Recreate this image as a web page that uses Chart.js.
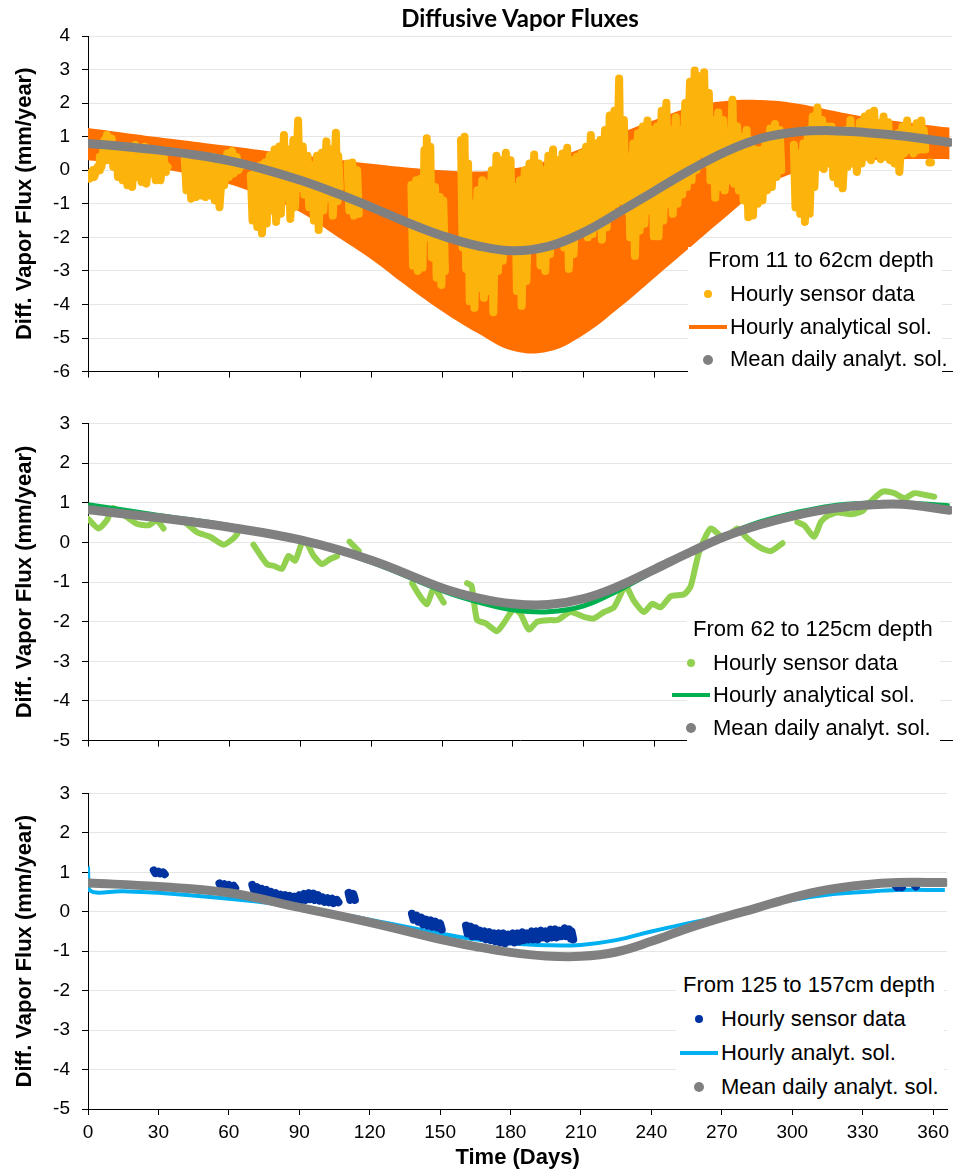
<!DOCTYPE html>
<html>
<head>
<meta charset="utf-8">
<script src="https://cdn.jsdelivr.net/npm/chart.js@4.4.1/dist/chart.umd.min.js"></script>
<style>
  body { margin: 0; background: #fff; }
  #wrap { position: relative; width: 955px; height: 1173px; overflow: hidden; font-family: "Liberation Sans", Arial, sans-serif; }
  canvas { position: absolute; left: 0; }
  .title { position: absolute; left: 300px; width: 440px; top: 4px; line-height: 28px; text-align: center;
           font-family: Lato, "Open Sans", sans-serif; font-weight: bold; font-size: 24px; color: #000; }
  .lgbox { position: absolute; background: #fff; }
  .lg { position: absolute; font-size: 22px; line-height: 26px; color: #000; white-space: nowrap; }
  .dot { position: absolute; border-radius: 50%; }
  .bar { position: absolute; height: 4px; }
</style>
</head>
<body>
<div id="wrap">
  <canvas id="c1" width="955" height="395" style="top:0px"></canvas>
  <canvas id="c2" width="955" height="364" style="top:400px"></canvas>
  <canvas id="c3" width="955" height="403" style="top:770px"></canvas>
  <div class="title">Diffusive Vapor Fluxes</div>

  <!-- legend panel 1 -->
  <div class="lgbox" style="left:688px;top:247px;width:254px;height:132px"></div>
  <div class="lg" style="left:708px;top:247px">From 11 to 62cm depth</div>
  <div class="dot" style="left:704px;top:290px;width:8px;height:8px;background:#FCB40D"></div>
  <div class="lg" style="left:730px;top:281px">Hourly sensor data</div>
  <div class="bar" style="left:689px;top:325px;width:38px;background:#FF7000"></div>
  <div class="lg" style="left:730px;top:314px">Hourly analytical sol.</div>
  <div class="dot" style="left:703px;top:355px;width:10px;height:10px;background:#808080"></div>
  <div class="lg" style="left:730px;top:346px">Mean daily analyt. sol.</div>

  <!-- legend panel 2 -->
  <div class="lgbox" style="left:687px;top:610px;width:253px;height:138px"></div>
  <div class="lg" style="left:693px;top:616px">From 62 to 125cm depth</div>
  <div class="dot" style="left:687px;top:659px;width:8px;height:8px;background:#92D050"></div>
  <div class="lg" style="left:713px;top:650px">Hourly sensor data</div>
  <div class="bar" style="left:672px;top:693px;width:38px;background:#00B050"></div>
  <div class="lg" style="left:713px;top:682px">Hourly analytical sol.</div>
  <div class="dot" style="left:686px;top:723px;width:10px;height:10px;background:#808080"></div>
  <div class="lg" style="left:713px;top:715px">Mean daily analyt. sol.</div>

  <!-- legend panel 3 -->
  <div class="lgbox" style="left:676px;top:966px;width:268px;height:140px"></div>
  <div class="lg" style="left:683px;top:972px">From 125 to 157cm depth</div>
  <div class="dot" style="left:695px;top:1015px;width:8px;height:8px;background:#0033A0"></div>
  <div class="lg" style="left:721px;top:1006px">Hourly sensor data</div>
  <div class="bar" style="left:680px;top:1051px;width:38px;background:#00B0F0"></div>
  <div class="lg" style="left:721px;top:1040px">Hourly analyt. sol.</div>
  <div class="dot" style="left:694px;top:1082px;width:10px;height:10px;background:#808080"></div>
  <div class="lg" style="left:721px;top:1074px">Mean daily analyt. sol.</div>
</div>

<script>
// ---------- panel 1 : 11 to 62 cm ----------
const band1Day  = [0, 15, 30, 45, 60, 75, 90, 105, 120, 135, 150, 165, 180, 195, 210, 225, 240, 255, 270, 285, 300, 315, 330, 345, 365];
const band1High = [1.26, 1.12, 0.98, 0.85, 0.72, 0.58, 0.45, 0.33, 0.19, 0.08, 0.0, -0.04, 0.05, 0.3, 0.68, 1.1, 1.5, 1.87, 2.06, 2.09, 1.99, 1.78, 1.58, 1.44, 1.27];
const band1Low  = [0.3, 0.2, 0.05, -0.15, -0.42, -0.8, -1.25, -1.95, -2.65, -3.45, -4.2, -4.85, -5.38, -5.4, -4.9, -4.1, -3.2, -2.3, -1.4, -0.55, -0.05, 0.2, 0.3, 0.33, 0.33];

const mean1Day = [0, 15, 30, 45, 60, 75, 90, 105, 120, 135, 150, 165, 180, 195, 210, 225, 240, 255, 270, 285, 300, 315, 330, 345, 365];
const mean1Val = [0.8, 0.71, 0.6, 0.46, 0.28, 0.02, -0.3, -0.68, -1.1, -1.55, -1.95, -2.25, -2.4, -2.27, -1.85, -1.25, -0.62, 0.0, 0.55, 0.95, 1.14, 1.18, 1.12, 1.02, 0.83];

// hourly sensor data: daily spread (top / bottom), null = no data
const sens1Day = [
  0, 2, 4, 5, 7, 8, 10, 12, 14, 16, 18, 20, 22, 24, 26, 28, 30, 32, 33, null,
  41, 43, 45, 47, 49, 51, 53, 55, 57, 59, 61, 63, 64, null,
  69, 71, 73, 75, 77, 79, 81, 83, 85, 87, 89, 91, 93, 95, 97, 99, 101, 103, 105, 106, null,
  110, 112, 114, null,
  137, 139, 141, 142.5, 143.5, 145, 147, 149, 150.5, null,
  158, 159.5, 161, 163, 165, 167, 169, 171, 173, 175, 177, 179, 181, 183, 185, 187, 189, 191, 193, 195,
  197, 199, 201, 203, 205, 207, 209, 211, 213, 215, 217, 219, 221, 223, 225, 227, 229, 231, 233, 235,
  237, 239, 241, 243, 245, 247, 249, 251, 253, 255, 257, 259, 261, 263, 265, 267, 269, 271, 273, 275,
  277, 279, 281, 283, 285, 287, 289, 291, 293, null,
  299, 301, 303, 305, 307, 309, 311, 313, 315, 317, 319, 321, 323, 325, 327, 329, 331, 333, 335, 337,
  339, 341, 343, 345, 347, 349, 351, 353, 354, null,
  356.4
];
const sens1Top = [
  -0.1, 0.0, 0.1, 0.4, 0.9, 1.05, 0.95, 0.7, 0.5, 0.45, 0.6, 0.75, 0.65, 0.7, 0.5, 0.45, 0.5, 0.45, 0.15, null,
  0.35, 0.3, 0.2, 0.3, 0.35, 0.4, 0.4, 0.35, 0.2, 0.5, 0.57, 0.4, 0.15, null,
  -0.15, 0.04, 0.14, 0.23, 0.43, 0.62, 0.71, 1.05, 0.62, 0.9, 1.48, 0.71, 0.43, 0.14, 0.43, 0.52, 0.86, 0.62, 1.12, 0.43, null,
  0.2, 0.23, 0.0, null,
  -0.44, -0.3, -0.25, 0.6, 0.95, 0.7, -0.5, -0.8, -0.9, null,
  0.9, 1.0, 0.2, -1.0, -0.6, -0.3, -0.4, 0.0, 0.43, 0.3, 0.52, 0.3, -0.5, -0.3, 0.0, 0.2, 0.47, 0.2, 0.0, 0.43,
  0.62, 0.3, 0.5, 0.67, 0.3, 0.4, 0.5, 0.7, 1.05, 0.8, 0.9, 1.2, 1.63, 1.77, 2.73, 1.5, 0.4, 0.8, 1.1, 1.3,
  1.48, 1.2, 1.3, 1.77, 2.01, 1.2, 1.58, 1.2, 2.0, 2.64, 2.97, 2.8, 2.92, 2.3, 1.5, 1.72, 1.5, 0.8, 2.1, 1.3,
  1.0, 1.2, 0.9, 0.6, 0.6, 0.9, 1.24, 1.38, 1.2, null,
  0.76, 0.5, 0.8, 1.2, 1.6, 1.87, 1.5, 1.3, 1.3, 1.0, 1.1, 1.19, 1.5, 1.0, 1.43, 1.6, 1.7, 1.77, 1.4, 1.6,
  1.43, 1.0, 1.1, 1.3, 1.48, 1.2, 1.4, 1.48, 1.2, null,
  0.23
];
const sens1Bot = [
  -0.25, -0.2, 0.0, 0.1, 0.3, 0.4, 0.1, -0.2, -0.3, -0.45, -0.5, -0.2, -0.35, -0.4, -0.1, -0.3, -0.3, -0.05, 0.1, null,
  -0.6, -0.85, -0.8, -0.75, -0.8, -0.75, -0.9, -1.1, -0.45, -0.2, -0.1, 0.0, 0.1, null,
  -1.5, -1.69, -1.88, -1.59, -1.2, -1.54, -1.3, -0.82, -1.45, -1.1, -0.53, -0.73, -1.1, -1.5, -1.78, -1.2, -0.82, -1.35, -0.92, -0.53, null,
  -1.2, -1.35, -1.3, null,
  -2.84, -3.0, -2.9, -1.8, -2.0, -2.6, -3.2, -3.42, -3.0, null,
  -2.3, -2.94, -3.9, -4.1, -3.5, -3.8, -3.6, -4.23, -3.0, -2.7, -2.2, -2.3, -3.6, -4.04, -3.3, -2.2, -2.2, -2.84, -3.0, -2.5,
  -2.2, -2.07, -2.3, -2.94, -2.5, -1.8, -1.8, -2.0, -1.9, -1.7, -2.07, -1.7, -1.2, -1.0, -0.9, -1.2, -2.0, -2.55, -1.8, -1.6,
  -1.2, -1.97, -1.97, -1.5, -1.0, -1.3, -1.0, -0.73, -0.5, -0.3, 0.0, 0.5, 0.2, -0.3, -0.82, -0.5, -0.6, -0.3, -0.4, -0.6,
  -0.9, -1.4, -1.35, -1.0, -0.9, -0.6, -0.5, -0.2, 0.0, null,
  -1.11, -1.3, -1.54, -1.3, -0.5, 0.1, 0.04, 0.2, -0.2, -0.4, -0.54, 0.1, 0.2, -0.05, 0.2, 0.4, 0.3, 0.5, 0.33, 0.4,
  0.3, 0.2, -0.05, 0.5, 0.6, 0.5, 0.6, 0.62, 0.62, null,
  0.23
];

// ---------- panel 2 : 62 to 125 cm ----------
const mean2Day = [0, 30, 60, 90, 120, 150, 165, 180, 195, 210, 225, 240, 255, 270, 285, 300, 315, 330, 345, 365];
const mean2Val = [0.82, 0.62, 0.38, 0.06, -0.45, -1.15, -1.4, -1.55, -1.57, -1.42, -1.1, -0.68, -0.25, 0.15, 0.45, 0.68, 0.85, 0.94, 0.96, 0.81];
const hour2Val = [0.95, 0.68, 0.42, 0.05, -0.5, -1.22, -1.5, -1.7, -1.75, -1.6, -1.2, -0.72, -0.25, 0.18, 0.52, 0.75, 0.92, 0.99, 1.0, 0.92];

const sens2Day = [
  0.1, 4.4, 7.9, 10.7, 15.7, 20.6, 25.6, 29.1, 32, null,
  41.8, 46.1, 51.7, 57.4, 61.6, 63.3, null,
  70.1, 75.8, 78.6, 82.1, 85, 87.8, 90.6, 92.7, 95.6, 99.1, 102.6, 105.5, null,
  110.8, 114.7, null,
  137.3, 140.1, 143.6, 146.5, 150.7, null,
  160.6, 162.5, 164.8, 168.4, 173.3, 176.1, 180.4, 183.2, 186.7, 190.3, 195.9, 198.8, 204.4, 210.1, 214.3, 218.5, 222.8,
  227.7, 231.3, 235.5, 239, 242.6, 246.8, 252.5, 255.3, 258.8, 263.8, 269.4, 275.1, 279.3, 285, 289.2, 294.2, null,
  300.5, 303.4, 307.6, 310.4, 313.3, 317.5, 323.2, 328.1, 331.6, 336.6, 341.5, 345.8, 350, 354.3, 358.5
];
const sens2Val = [
  0.59, 0.35, 0.55, 0.87, 0.67, 0.47, 0.43, 0.55, 0.35, null,
  0.47, 0.26, 0.14, -0.06, 0.1, 0.22, null,
  -0.06, -0.55, -0.59, -0.67, -0.34, -0.46, -0.02, -0.02, -0.34, -0.55, -0.42, -0.35, null,
  0.02, -0.22, null,
  -1.03, -1.31, -1.56, -1.15, -1.52, null,
  -1.03, -1.1, -1.96, -2.04, -2.24, -2.04, -1.68, -1.8, -2.2, -2.0, -1.96, -1.96, -1.76, -1.88, -1.92, -1.76, -1.64,
  -1.11, -1.48, -1.76, -1.55, -1.64, -1.36, -1.31, -1.11, -0.26, 0.35, 0.1, 0.35, 0.1, -0.14, -0.22, -0.02, null,
  0.51, 0.43, 0.14, 0.51, 0.67, 0.75, 0.71, 0.79, 1.03, 1.28, 1.24, 1.11, 1.24, 1.2, 1.15
];

// ---------- panel 3 : 125 to 157 cm ----------
const mean3Day = [0, 30, 60, 90, 120, 150, 165, 180, 195, 210, 225, 240, 255, 270, 285, 300, 315, 330, 345, 365];
const mean3Val = [0.73, 0.64, 0.48, 0.11, -0.27, -0.7, -0.88, -1.03, -1.12, -1.13, -1.02, -0.75, -0.43, -0.15, 0.1, 0.36, 0.56, 0.68, 0.74, 0.74];
const hour3Day = [0, 0.5, 15, 30, 60, 90, 120, 150, 165, 180, 195, 210, 225, 240, 255, 270, 285, 300, 315, 330, 345, 365];
const hour3Val = [1.15, 0.55, 0.52, 0.48, 0.33, 0.12, -0.2, -0.55, -0.7, -0.8, -0.85, -0.84, -0.72, -0.5, -0.3, -0.12, 0.1, 0.3, 0.43, 0.5, 0.55, 0.55];

const sens3Day = [
  28, 30, 32, null,
  56, 58, 60, 62, null,
  70, 72, 74, 76, 78, 80, 82, 84, 86, 88, 90, 92, 94, 96, 98, 100, 102, 104, 106, null,
  111, 113, null,
  138, 140, 142, 144, 146, 148, 150, null,
  161, 163, 165, 167, 169, 171, 173, 175, 177, 179, 181, 183, 185, 187, 189, 191, 193, 195, 197, 199, 201, 203, 205, 206, null,
  344, 346, null,
  352
];
const sens3Top = [
  1.05, 1.02, 1.0, null,
  0.72, 0.7, 0.68, 0.66, null,
  0.68, 0.62, 0.58, 0.55, 0.5, 0.47, 0.43, 0.42, 0.4, 0.38, 0.42, 0.45, 0.47, 0.46, 0.42, 0.36, 0.34, 0.33, 0.3, null,
  0.48, 0.45, null,
  -0.05, -0.1, -0.15, -0.2, -0.22, -0.25, -0.3, null,
  -0.35, -0.38, -0.42, -0.48, -0.5, -0.52, -0.55, -0.55, -0.55, -0.58, -0.55, -0.55, -0.52, -0.55, -0.5, -0.5, -0.48, -0.5, -0.45, -0.45, -0.48, -0.42, -0.45, -0.5, null,
  0.66, 0.66, null,
  0.68
];
const sens3Bot = [
  0.98, 0.97, 0.95, null,
  0.65, 0.62, 0.62, 0.6, null,
  0.55, 0.5, 0.46, 0.42, 0.38, 0.33, 0.3, 0.25, 0.2, 0.25, 0.28, 0.3, 0.32, 0.3, 0.28, 0.25, 0.24, 0.22, 0.24, null,
  0.3, 0.3, null,
  -0.2, -0.25, -0.32, -0.35, -0.38, -0.4, -0.45, null,
  -0.55, -0.62, -0.62, -0.65, -0.7, -0.72, -0.75, -0.78, -0.8, -0.75, -0.78, -0.75, -0.72, -0.7, -0.7, -0.7, -0.65, -0.68, -0.65, -0.65, -0.62, -0.62, -0.68, -0.7, null,
  0.62, 0.62, null,
  0.64
];

const FONT = '"Liberation Sans", Arial, sans-serif';

// hourly data swings between top and bottom every day -> zigzag path
function zigzag(days, tops, bots) {
  const pts = [];
  days.forEach((d, i) => {
    if (d === null) {
      pts.push({ x: pts.length ? pts[pts.length - 1].x : 0, y: null });
      return;
    }
    pts.push({ x: d, y: tops[i] });
    pts.push({ x: d + 0.7, y: bots[i] });
  });
  return pts;
}

function xy(days, vals) {
  return days.map((d, i) => ({ x: d === null ? 0 : d, y: d === null ? null : vals[i] }));
}

function options(yMin, yMax, padTop, xH, showX) {
  return {
    responsive: false,
    animation: false,
    devicePixelRatio: 1,
    layout: { padding: { top: padTop, right: 3, left: 0, bottom: 0 } },
    plugins: { legend: { display: false }, tooltip: { enabled: false } },
    elements: { point: { radius: 0 } },
    scales: {
      x: {
        type: 'linear', min: 0, max: 366,
        ticks: { display: showX, stepSize: 30, includeBounds: false, color: '#000', padding: 6, maxRotation: 0,
                 font: { family: FONT, size: 19 } },
        afterBuildTicks: s => { s.ticks = s.ticks.filter(t => t.value % 30 === 0); },
        grid: { drawOnChartArea: false, tickLength: 6, tickColor: '#000' },
        border: { color: '#000', width: 1 },
        title: { display: showX, text: 'Time (Days)', color: '#000', padding: { top: 0, bottom: 2 },
                 font: { family: FONT, size: 22, weight: 'bold' } },
        afterFit: s => { s.height = xH; }
      },
      y: {
        min: yMin, max: yMax,
        ticks: { stepSize: 1, color: '#000', padding: 12, font: { family: FONT, size: 19 } },
        grid: { color: '#e6e6e6', tickLength: 6, tickColor: '#000' },
        border: { color: '#000', width: 1 },
        title: { display: true, text: 'Diff. Vapor Flux (mm/year)', color: '#000', padding: { top: 12, bottom: 0 },
                 font: { family: FONT, size: 22, weight: 'bold' } },
        afterFit: s => { s.width = 88; }
      }
    }
  };
}

const meanStyle = { borderColor: '#808080', borderWidth: 9, borderCapStyle: 'round', borderJoinStyle: 'round',
                    tension: 0.4, pointRadius: 0, fill: false };

// PANEL 1
new Chart(document.getElementById('c1'), {
  type: 'line',
  data: {
    datasets: [
      Object.assign({ label: 'Mean daily analyt. sol.', data: xy(mean1Day, mean1Val), order: 0 }, meanStyle),
      { label: 'Hourly sensor data', data: zigzag(sens1Day, sens1Top, sens1Bot), order: 1,
        borderColor: '#FCB40D', borderWidth: 8, borderCapStyle: 'round', borderJoinStyle: 'round',
        tension: 0, spanGaps: false, fill: false },
      { label: 'band high', data: xy(band1Day, band1High), order: 2, borderWidth: 0, borderColor: '#FF7000',
        tension: 0.4, fill: false },
      { label: 'Hourly analytical sol.', data: xy(band1Day, band1Low), order: 3, borderWidth: 0, borderColor: '#FF7000',
        backgroundColor: '#FF7000', tension: 0.4, fill: '-1' }
    ]
  },
  options: options(-6, 4, 36, 12, false)
});

// PANEL 2
new Chart(document.getElementById('c2'), {
  type: 'line',
  data: {
    datasets: [
      Object.assign({ label: 'Mean daily analyt. sol.', data: xy(mean2Day, mean2Val), order: 0 }, meanStyle),
      { label: 'Hourly analytical sol.', data: xy(mean2Day, hour2Val), order: 1, borderColor: '#00B050', borderWidth: 5,
        tension: 0.4, fill: false },
      { label: 'Hourly sensor data', data: xy(sens2Day, sens2Val), order: 2, borderColor: '#92D050', borderWidth: 6,
        borderCapStyle: 'round', borderJoinStyle: 'round', tension: 0.2, spanGaps: false, fill: false }
    ]
  },
  options: options(-5, 3, 22.3, 12, false)
});

// PANEL 3
new Chart(document.getElementById('c3'), {
  type: 'line',
  data: {
    datasets: [
      Object.assign({ label: 'Mean daily analyt. sol.', data: xy(mean3Day, mean3Val), order: 0 }, meanStyle),
      { label: 'Hourly sensor data', data: zigzag(sens3Day, sens3Top, sens3Bot), order: 1,
        borderColor: '#0033A0', borderWidth: 8, borderCapStyle: 'round', borderJoinStyle: 'round',
        tension: 0, spanGaps: false, fill: false },
      { label: 'Hourly analyt. sol.', data: xy(hour3Day, hour3Val), order: 2, borderColor: '#00B0F0', borderWidth: 4,
        tension: 0.4, fill: false }
    ]
  },
  options: options(-5, 3, 14.3, 64, true)
});
</script>
</body>
</html>
